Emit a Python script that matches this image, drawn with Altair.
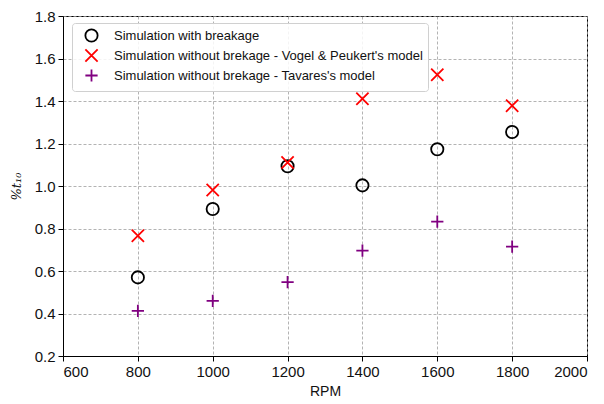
import altair as alt
import pandas as pd

rpm = [800, 1000, 1200, 1400, 1600, 1800]
with_breakage = [0.570, 0.892, 1.093, 1.003, 1.173, 1.254]
vogel_peukert = [0.766, 0.981, 1.111, 1.411, 1.524, 1.378]
tavares = [0.412, 0.459, 0.548, 0.696, 0.832, 0.715]

series_names = [
    "Simulation with breakage",
    "Simulation without brekage - Vogel & Peukert's model",
    "Simulation without brekage - Tavares's model",
]
series_values = [with_breakage, vogel_peukert, tavares]
series_colors = ["#000000", "#ff0000", "#800080"]
series_shapes = ["circle", "M-1,-1L1,1M-1,1L1,-1", "M0,-1L0,1M-1,0L1,0"]

rows = []
for name, vals in zip(series_names, series_values):
    for r, v in zip(rpm, vals):
        rows.append({"RPM": r, "value": v, "series": name})
df = pd.DataFrame(rows)

font = "Liberation Sans"

chart = alt.Chart(df).mark_point(filled=False, size=150, strokeWidth=1.8, opacity=1).encode(
    x=alt.X("RPM:Q", title="RPM",
            scale=alt.Scale(domain=[600, 2000], nice=False, zero=False),
            axis=alt.Axis(values=[600, 800, 1000, 1200, 1400, 1600, 1800, 2000], format="d")),
    y=alt.Y("value:Q", title="%t₁₀",
            scale=alt.Scale(domain=[0.2, 1.8], nice=False, zero=False),
            axis=alt.Axis(values=[0.2, 0.4, 0.6, 0.8, 1.0, 1.2, 1.4, 1.6, 1.8], format=".1f",
                          titleFont="DejaVu Serif", titleFontStyle="italic", titleFontSize=13,
                          titlePadding=11)),
    color=alt.Color("series:N", scale=alt.Scale(domain=series_names, range=series_colors),
                    legend=alt.Legend(orient="none", legendX=9, legendY=7, title=None,
                                      fillColor="rgba(255,255,255,0.85)", strokeColor="#d0d0d0",
                                      cornerRadius=3, padding=5, symbolOffset=7, labelOffset=15,
                                      labelFontSize=13, labelFont=font, labelColor="#111",
                                      rowPadding=-1, symbolSize=150, symbolStrokeWidth=1.8,
                                      labelLimit=500)),
    shape=alt.Shape("series:N", scale=alt.Scale(domain=series_names, range=series_shapes),
                    legend=alt.Legend(orient="none", legendX=9, legendY=7, title=None)),
).properties(
    width=524, height=340,
    padding={"left": 63, "top": 16, "right": 17, "bottom": 48},
    autosize=alt.AutoSizeParams(type="none"),
).configure_view(
    stroke="black", strokeWidth=1
).configure_axis(
    domainColor="black", domainWidth=1,
    tickColor="black", tickSize=5, tickWidth=1,
    labelFont=font, labelFontSize=15, labelColor="#111",
    titleFont=font, titleFontSize=14, titleColor="#111", titleFontWeight="normal",
    grid=True, gridColor="#a0a0a0", gridDash=[3, 2], gridWidth=0.8,
    labelPadding=3,
).configure_axisX(
    titlePadding=5,
)

chart.save("out.html", embed_options={"renderer": "svg", "actions": False})
